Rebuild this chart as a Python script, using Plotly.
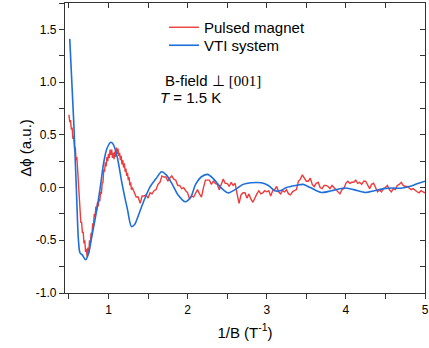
import plotly.graph_objects as go

# ---------------- data ----------------
vti_x = [0.51, 0.56, 0.593, 0.62, 0.64, 0.67, 0.71, 0.75, 0.78, 0.84, 0.895, 0.94, 0.98,
         1.03, 1.06, 1.11, 1.17, 1.24, 1.29, 1.33, 1.36, 1.44, 1.52, 1.61, 1.67, 1.73,
         1.80, 1.88, 1.97, 2.04, 2.10, 2.17, 2.25, 2.33, 2.42, 2.51, 2.60, 2.70, 2.80,
         2.93, 3.02, 3.10, 3.17, 3.25, 3.37, 3.46, 3.55, 3.69, 3.82, 3.98, 4.10, 4.25,
         4.36, 4.48, 4.60, 4.69, 4.80, 4.90, 5.0]
vti_y = [1.41, 0.63, 0.0, -0.5, -0.62, -0.64, -0.685, -0.62, -0.5, -0.26, 0.0, 0.24, 0.37,
         0.43, 0.41, 0.29, 0.04, -0.21, -0.37, -0.35, -0.30, -0.14, 0.0, 0.094, 0.15, 0.12,
         0.04, -0.07, -0.135, -0.09, 0.03, 0.10, 0.125, 0.08, 0.0, -0.05, -0.02, 0.03, 0.045,
         0.045, 0.02, -0.03, -0.03, 0.0, 0.02, 0.03, 0.0, -0.047, -0.03, -0.005, -0.02, -0.047,
         -0.03, -0.01, -0.005, -0.007, 0.01, 0.035, 0.06]

pulsed_x_early = [round(0.50 + 0.01 * i, 3) for i in range(81)]
pulsed_y_early = [0.69, 0.62, 0.64, 0.55, 0.57, 0.46, 0.49, 0.37, 0.38, 0.26,
                  0.29, 0.15, 0.10, -0.05, -0.15, -0.33, -0.33, -0.43, -0.42, -0.53,
                  -0.50, -0.61, -0.58, -0.66, -0.57, -0.62, -0.50, -0.54, -0.43, -0.46,
                  -0.34, -0.36, -0.25, -0.28, -0.18, -0.22, -0.14, -0.18, -0.11, -0.13,
                  -0.04, -0.06, 0.04, 0.05, 0.17, 0.15, 0.24, 0.20, 0.29, 0.25,
                  0.32, 0.28, 0.36, 0.31, 0.36, 0.28, 0.33, 0.27, 0.34, 0.29,
                  0.38, 0.32, 0.37, 0.30, 0.33, 0.26, 0.30, 0.22, 0.26, 0.19,
                  0.23, 0.15, 0.18, 0.11, 0.14, 0.07, 0.10, 0.02, 0.05, -0.02,
                  0.00]
pulsed_x_late = [round(1.325 + 0.025 * i, 3) for i in range(148)]
pulsed_y_late = [-0.05, -0.09, -0.09, -0.15, -0.08, -0.08, -0.07, -0.10, -0.05, -0.06,
                 -0.03, -0.02, 0.03, 0.05, 0.11, 0.10, 0.10, 0.06, 0.09, 0.11,
                 0.08, 0.07, 0.02, 0.02, -0.01, 0.00, -0.03, -0.05, -0.11, -0.08,
                 -0.09, -0.05, -0.02, -0.06, -0.09, 0.00, 0.07, 0.07, 0.07, 0.03,
                 0.06, 0.04, 0.03, -0.02, 0.04, 0.08, 0.04, 0.04, 0.01, 0.05,
                 0.02, 0.04, -0.06, -0.15, -0.07, -0.05, -0.05, -0.10, -0.06, -0.11,
                 -0.14, -0.09, -0.06, -0.03, -0.06, -0.05, -0.03, -0.04, -0.03, -0.08,
                 -0.03, -0.02, 0.01, -0.04, -0.06, -0.03, -0.04, -0.02, -0.06, -0.07,
                 -0.04, -0.03, -0.02, 0.06, 0.08, 0.12, 0.09, 0.06, 0.06, 0.09,
                 0.03, 0.01, 0.04, 0.05, 0.00, -0.01, 0.02, 0.02, 0.01, -0.01,
                 0.02, 0.00, -0.02, -0.03, -0.06, -0.02, -0.01, 0.04, 0.06, 0.04,
                 0.05, 0.05, 0.07, 0.04, 0.05, 0.03, 0.06, 0.06, 0.02, -0.01,
                 0.03, 0.04, 0.00, -0.04, -0.02, -0.04, -0.01, 0.00, 0.02, -0.02,
                 -0.04, -0.01, -0.02, 0.02, 0.03, 0.05, 0.02, 0.01, 0.01, -0.01,
                 -0.02, -0.01, -0.03, -0.04, -0.05, -0.03, -0.04, -0.05]
pulsed_x = pulsed_x_early + pulsed_x_late
pulsed_y = pulsed_y_early + pulsed_y_late

x_ticks = [1, 2, 3, 4, 5]
y_ticks = [-1.0, -0.5, 0.0, 0.5, 1.0, 1.5]
y_tick_text = ["-1.0", "-0.5", "0.0", "0.5", "1.0", "1.5"]

X_RANGE = [0.45, 5.0]
Y_RANGE = [-1.0, 1.75]

SANS = "Arial, Liberation Sans, sans-serif"

# ---------------- figure ----------------
fig = go.Figure()
fig.add_trace(go.Scatter(x=pulsed_x, y=pulsed_y, mode="lines", name="Pulsed magnet",
                         legend="legend",
                         line=dict(color="#EE3B3B", width=1.4)))
fig.add_trace(go.Scatter(x=vti_x, y=vti_y, mode="lines", name="VTI system",
                         legend="legend2",
                         line=dict(color="#1E6FD9", width=1.6, shape="spline", smoothing=0.8)))
# helper (empty) trace so the mirrored top/right axes are drawn
fig.add_trace(go.Scatter(x=[None], y=[None], xaxis="x2", yaxis="y2", showlegend=False,
                         hoverinfo="skip"))

axis_font = dict(family=SANS, size=12, color="black")
title_font = dict(family=SANS, size=15, color="black")
leg_font = dict(family=SANS, size=15, color="black")

PW, PH, L, T = 360, 290, 65, 3


def px_x(p):
    return (p - L) / PW


def px_y(p):
    return 1 - (p - T) / PH


fig.update_layout(
    width=429, height=348,
    margin=dict(l=L, r=4, t=T, b=55, autoexpand=False),
    paper_bgcolor="white", plot_bgcolor="white",
    font=dict(family=SANS, color="black"),
    xaxis=dict(range=X_RANGE, tickvals=x_ticks, ticks="outside", ticklen=5, tickwidth=1.2,
               tickcolor="#333", showline=True, linecolor="#333", linewidth=1.3,
               showgrid=False, zeroline=False, tickfont=axis_font, automargin=False,
               minor=dict(dtick=0.5, tick0=0, ticks="outside", ticklen=5, tickwidth=1.2,
                          tickcolor="#333", showgrid=False),
               title=dict(text="1/B (T<sup>-1</sup>)", font=title_font, standoff=11)),
    yaxis=dict(range=Y_RANGE, tickvals=y_ticks, ticktext=y_tick_text, ticks="outside",
               ticklen=5, tickwidth=1.2, tickcolor="#333", showline=True, linecolor="#333",
               linewidth=1.3, showgrid=False, zeroline=False, tickfont=axis_font,
               automargin=False,
               minor=dict(dtick=0.25, tick0=0, ticks="outside", ticklen=5, tickwidth=1.2,
                          tickcolor="#333", showgrid=False),
               title=dict(text="Δϕ (a.u.)", font=title_font, standoff=0)),
    xaxis2=dict(range=X_RANGE, overlaying="x", side="top", anchor="y", dtick=0.5, tick0=0,
                ticks="inside", ticklen=5, tickwidth=1.2, tickcolor="#333",
                showticklabels=False, showline=True, linecolor="#333", linewidth=1.3,
                showgrid=False, zeroline=False, automargin=False),
    yaxis2=dict(range=Y_RANGE, overlaying="y", side="right", anchor="x", dtick=0.25, tick0=0,
                ticks="inside", ticklen=5, tickwidth=1.2, tickcolor="#333",
                showticklabels=False, showline=True, linecolor="#333", linewidth=1.3,
                showgrid=False, zeroline=False, automargin=False),
    legend=dict(x=px_x(164), y=px_y(11), xanchor="left", yanchor="top",
                bgcolor="rgba(0,0,0,0)", borderwidth=0, font=leg_font, itemwidth=30),
    legend2=dict(x=px_x(164), y=px_y(29), xanchor="left", yanchor="top",
                 bgcolor="rgba(0,0,0,0)", borderwidth=0, font=leg_font, itemwidth=30),
    showlegend=True,
)

fig.add_annotation(xref="paper", yref="paper", x=px_x(163), y=px_y(80),
                   xanchor="left", yanchor="middle", showarrow=False,
                   text="B-field ⊥ <span style=\"font-family:'Liberation Serif', 'Times New Roman', serif\">[001]</span>",
                   font=dict(family=SANS, size=15, color="black"))
fig.add_annotation(xref="paper", yref="paper", x=px_x(158), y=px_y(97),
                   xanchor="left", yanchor="middle", showarrow=False,
                   text="<i>T</i> = 1.5 K",
                   font=dict(family=SANS, size=15, color="black"))

fig.write_html("out.html", config={"displayModeBar": False},
               post_script="document.body.style.margin='0px';document.body.style.overflow='hidden';")
